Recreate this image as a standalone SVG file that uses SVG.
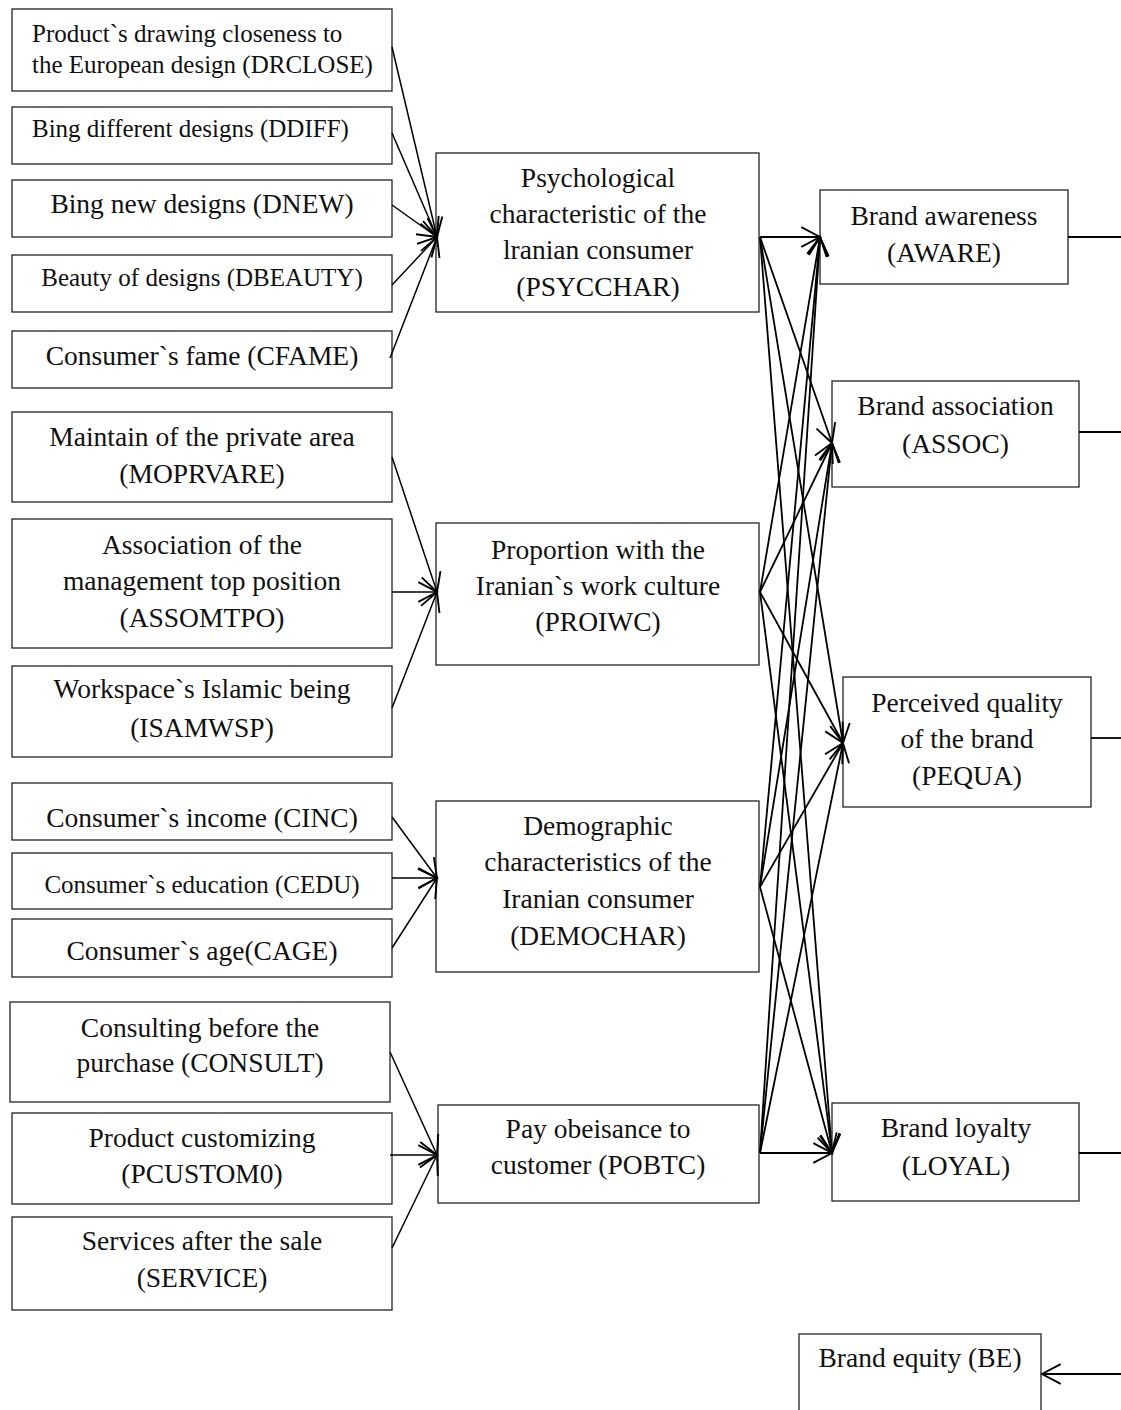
<svg xmlns="http://www.w3.org/2000/svg" width="1121" height="1410" viewBox="0 0 1121 1410">
<style>
.box{fill:#fff;stroke:#222;stroke-width:1.3}
.t{font-family:"Liberation Serif","Times New Roman",serif;font-size:27.5px;fill:#111;text-anchor:middle}
.s{font-size:25px}
.l{text-anchor:start}
.c{fill:none;stroke:#000;stroke-width:1.5}
.m{stroke-width:1.8}
</style>
<defs>
<marker id="ah" markerUnits="userSpaceOnUse" markerWidth="22" markerHeight="22" viewBox="0 0 20 20" refX="18" refY="10" orient="auto">
<path d="M1,1 L18,10 L1,19" fill="none" stroke="#000" stroke-width="1.7"/>
</marker>
</defs>
<rect width="1121" height="1410" fill="#fff"/>

<g id="DRCLOSE"><rect class="box" x="12" y="9" width="380" height="82"/><text class="t s l" x="32" y="42">Product`s drawing closeness to</text><text class="t s l" x="32" y="73">the European design (DRCLOSE)</text></g>
<g id="DDIFF"><rect class="box" x="12" y="107" width="380" height="57"/><text class="t s l" x="32" y="137">Bing different designs (DDIFF)</text></g>
<g id="DNEW"><rect class="box" x="12" y="180" width="380" height="57"/><text class="t" x="202" y="213">Bing new designs (DNEW)</text></g>
<g id="DBEAUTY"><rect class="box" x="12" y="255" width="380" height="57"/><text class="t s" x="202" y="286">Beauty of designs (DBEAUTY)</text></g>
<g id="CFAME"><rect class="box" x="12" y="331" width="380" height="57"/><text class="t" x="202" y="365">Consumer`s fame (CFAME)</text></g>

<g id="MOPRVARE"><rect class="box" x="12" y="412" width="380" height="90"/><text class="t" x="202" y="446">Maintain of the private area</text><text class="t" x="202" y="483">(MOPRVARE)</text></g>
<g id="ASSOMTPO"><rect class="box" x="12" y="519" width="380" height="129"/><text class="t" x="202" y="554">Association of the</text><text class="t" x="202" y="590">management top position</text><text class="t" x="202" y="627">(ASSOMTPO)</text></g>
<g id="ISAMWSP"><rect class="box" x="12" y="666" width="380" height="91"/><text class="t" x="202" y="698">Workspace`s Islamic being</text><text class="t" x="202" y="737">(ISAMWSP)</text></g>

<g id="CINC"><rect class="box" x="12" y="783" width="380" height="57"/><text class="t" x="202" y="827">Consumer`s income (CINC)</text></g>
<g id="CEDU"><rect class="box" x="12" y="853" width="380" height="56"/><text class="t s" x="202" y="893">Consumer`s education (CEDU)</text></g>
<g id="CAGE"><rect class="box" x="12" y="919" width="380" height="58"/><text class="t" x="202" y="960">Consumer`s age(CAGE)</text></g>

<g id="CONSULT"><rect class="box" x="10" y="1002" width="380" height="100"/><text class="t" x="200" y="1037">Consulting before the</text><text class="t" x="200" y="1072">purchase (CONSULT)</text></g>
<g id="PCUSTOM0"><rect class="box" x="12" y="1113" width="380" height="91"/><text class="t" x="202" y="1147">Product customizing</text><text class="t" x="202" y="1183">(PCUSTOM0)</text></g>
<g id="SERVICE"><rect class="box" x="12" y="1217" width="380" height="93"/><text class="t" x="202" y="1250">Services after the sale</text><text class="t" x="202" y="1287">(SERVICE)</text></g>

<g id="PSYCCHAR"><rect class="box" x="436" y="153" width="323" height="159"/><text class="t" x="598" y="187">Psychological</text><text class="t" x="598" y="223">characteristic of the</text><text class="t" x="598" y="259">lranian consumer</text><text class="t" x="598" y="296">(PSYCCHAR)</text></g>
<g id="PROIWC"><rect class="box" x="436" y="523" width="323" height="142"/><text class="t" x="598" y="559">Proportion with the</text><text class="t" x="598" y="595">Iranian`s work culture</text><text class="t" x="598" y="631">(PROIWC)</text></g>
<g id="DEMOCHAR"><rect class="box" x="436" y="801" width="323" height="171"/><text class="t" x="598" y="835">Demographic</text><text class="t" x="598" y="871">characteristics of the</text><text class="t" x="598" y="908">Iranian consumer</text><text class="t" x="598" y="945">(DEMOCHAR)</text></g>
<g id="POBTC"><rect class="box" x="438" y="1105" width="321" height="98"/><text class="t" x="598" y="1138">Pay obeisance to</text><text class="t" x="598" y="1174">customer (POBTC)</text></g>

<g id="AWARE"><rect class="box" x="820" y="190" width="248" height="94"/><text class="t" x="944" y="225">Brand awareness</text><text class="t" x="944" y="262">(AWARE)</text></g>
<g id="ASSOC"><rect class="box" x="832" y="381" width="247" height="106"/><text class="t" x="955.5" y="415">Brand association</text><text class="t" x="955.5" y="453">(ASSOC)</text></g>
<g id="PEQUA"><rect class="box" x="843" y="677" width="248" height="130"/><text class="t" x="967" y="712">Perceived quality</text><text class="t" x="967" y="748">of the brand</text><text class="t" x="967" y="785">(PEQUA)</text></g>
<g id="LOYAL"><rect class="box" x="832" y="1103" width="247" height="98"/><text class="t" x="956" y="1137">Brand loyalty</text><text class="t" x="956" y="1175">(LOYAL)</text></g>
<g id="BE"><rect class="box" x="799" y="1334" width="242" height="100"/><text class="t" x="920" y="1367">Brand equity (BE)</text></g>

<g id="connectors" class="c">
<line x1="392" y1="47" x2="437" y2="237" marker-end="url(#ah)"/>
<line x1="392" y1="133" x2="437" y2="237" marker-end="url(#ah)"/>
<line x1="392" y1="205" x2="437" y2="237" marker-end="url(#ah)"/>
<line x1="392" y1="285" x2="437" y2="237" marker-end="url(#ah)"/>
<line x1="390" y1="358" x2="437" y2="237" marker-end="url(#ah)"/>

<line x1="392" y1="457" x2="437" y2="592" marker-end="url(#ah)"/>
<line x1="392" y1="592" x2="437" y2="592" marker-end="url(#ah)"/>
<line x1="392" y1="708" x2="437" y2="592" marker-end="url(#ah)"/>

<line x1="392" y1="817" x2="437" y2="878" marker-end="url(#ah)"/>
<line x1="392" y1="878" x2="437" y2="878" marker-end="url(#ah)"/>
<line x1="392" y1="948" x2="437" y2="878" marker-end="url(#ah)"/>

<line x1="390" y1="1052" x2="437" y2="1155" marker-end="url(#ah)"/>
<line x1="390" y1="1155" x2="437" y2="1155" marker-end="url(#ah)"/>
<line x1="392" y1="1248" x2="437" y2="1155" marker-end="url(#ah)"/>

<g class="m">
<line x1="760" y1="237" x2="820" y2="237" marker-end="url(#ah)"/>
<line x1="760" y1="237" x2="832" y2="443" marker-end="url(#ah)"/>
<line x1="760" y1="237" x2="843" y2="743" marker-end="url(#ah)"/>
<line x1="760" y1="237" x2="832" y2="1153" marker-end="url(#ah)"/>

<line x1="760" y1="592" x2="820" y2="237" marker-end="url(#ah)"/>
<line x1="760" y1="592" x2="832" y2="443" marker-end="url(#ah)"/>
<line x1="760" y1="592" x2="843" y2="743" marker-end="url(#ah)"/>
<line x1="760" y1="592" x2="832" y2="1153" marker-end="url(#ah)"/>

<line x1="760" y1="887" x2="820" y2="237" marker-end="url(#ah)"/>
<line x1="760" y1="887" x2="832" y2="443" marker-end="url(#ah)"/>
<line x1="760" y1="887" x2="843" y2="743" marker-end="url(#ah)"/>
<line x1="760" y1="887" x2="832" y2="1153" marker-end="url(#ah)"/>

<line x1="760" y1="1153" x2="820" y2="237" marker-end="url(#ah)"/>
<line x1="760" y1="1153" x2="832" y2="443" marker-end="url(#ah)"/>
<line x1="760" y1="1153" x2="843" y2="743" marker-end="url(#ah)"/>
<line x1="760" y1="1153" x2="832" y2="1153" marker-end="url(#ah)"/>

<line x1="1068" y1="237" x2="1121" y2="237"/>
<line x1="1079" y1="432" x2="1121" y2="432"/>
<line x1="1091" y1="738" x2="1121" y2="738"/>
<line x1="1079" y1="1153" x2="1121" y2="1153"/>
<line x1="1121" y1="1374" x2="1042" y2="1374" marker-end="url(#ah)"/>
</g>
</g>
</svg>
